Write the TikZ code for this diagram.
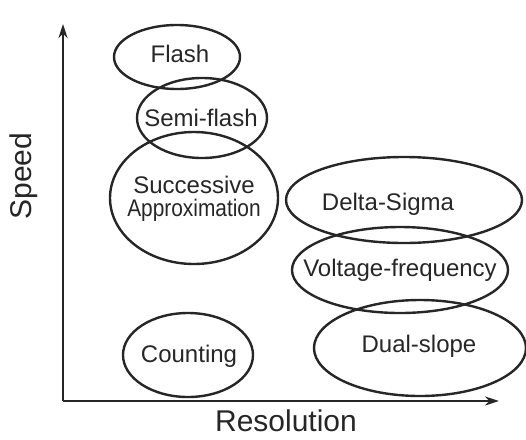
\documentclass[tikz,border=0pt]{standalone}
\usepackage{fontspec}
\setmainfont{Liberation Sans}
\usetikzlibrary{shapes.geometric,arrows.meta}
\begin{document}
\begin{tikzpicture}[x=1pt,y=-1pt,
  oval/.style={draw=black!85,line width=2.4pt,ellipse,inner sep=0pt},
  lbl/.style={font=\fontsize{24}{27}\selectfont,text=black!85,align=center,inner sep=0pt},
  axlbl/.style={font=\fontsize{30}{34}\selectfont,text=black!85,inner sep=0pt},
  axis/.style={draw=black!85,line width=2.4pt,-{Stealth[length=14pt,width=9pt]}}]
\useasboundingbox (0,0) rectangle (526,439);
% ellipses
\node[oval,minimum width=126pt,minimum height=64pt] (flash) at (177,57) {};
\node[oval,minimum width=130pt,minimum height=80pt] (semi) at (202,118) {};
\node[oval,minimum width=168pt,minimum height=132pt] (sa) at (194,198) {};
\node[oval,minimum width=236pt,minimum height=86pt] (ds) at (404,200) {};
\node[oval,minimum width=216pt,minimum height=86pt] (vf) at (400,270) {};
\node[oval,minimum width=212pt,minimum height=96pt] (dual) at (420,348) {};
\node[oval,minimum width=130pt,minimum height=84pt] (cnt) at (188,355) {};
% labels
\node[lbl] (tflash) at (180,54) {Flash};
\node[lbl] (tsemi) at (201,118) {Semi-flash};
\node[lbl] (tsa) at (194,199) {Successive\\[-4pt]\scalebox{0.87}[1]{Approximation}};
\node[lbl] (tds) at (388,204) {Delta-Sigma};
\node[lbl] (tvf) at (400,270) {Voltage-frequency};
\node[lbl] (tdual) at (419,346) {Dual-slope};
\node[lbl] (tcnt) at (189,356) {Counting};
% axes
\coordinate (o) at (63,401);
\coordinate (ytip) at (63,24);
\coordinate (xtip) at (499,401);
\draw[axis] (o) -- (ytip);
\draw[axis] (o) -- (xtip);
\node[axlbl,rotate=90] (speed) at (24,176) {Speed};
\node[axlbl] (res) at (286,421) {Resolution};
\end{tikzpicture}
\end{document}
